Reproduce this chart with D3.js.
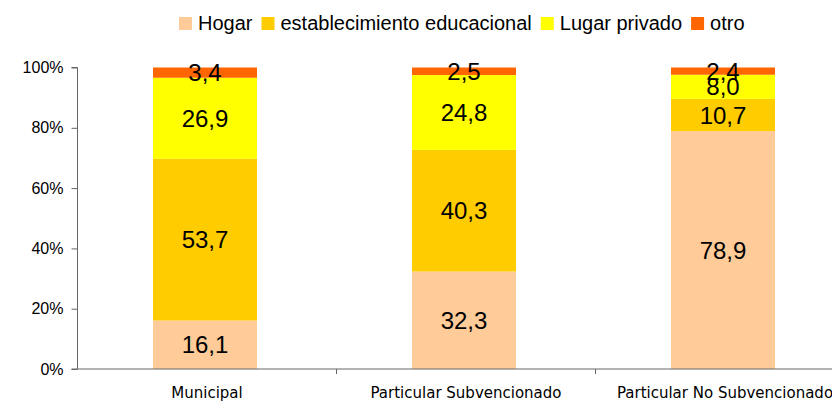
<!DOCTYPE html>
<html>
<head>
<meta charset="utf-8">
<script src="https://cdn.jsdelivr.net/npm/d3@7"></script>
<style>
  body { margin: 0; background: #fff; }
  svg { display: block; }
</style>
</head>
<body>
<div id="chart-area"></div>
<script>
var categories = ["Municipal", "Particular Subvencionado", "Particular No Subvencionado"]
var seriesNames = ["Hogar", "establecimiento educacional", "Lugar privado", "otro"]
var hogar = [16.1, 32.3, 78.9]
var establecimiento = [53.7, 40.3, 10.7]
var lugarPrivado = [26.9, 24.8, 8.0]
var otro = [3.4, 2.5, 2.4]
var colors = ["#FFCC99", "#FFCC00", "#FFFF00", "#FF6600"]
var yTicks = [0, 0.2, 0.4, 0.6, 0.8, 1]

var svgWidth = 832, svgHeight = 403
var margin = {top: 67.5, left: 77.5}
var chartWidth = 777   // plot runs past the right edge, like the original
var chartHeight = 369 - margin.top

var svg = d3.select("#chart-area").append("svg")
    .attr("width", svgWidth)
    .attr("height", svgHeight)

var rows = categories.map((c, i) => {
    return {cat: c, "Hogar": hogar[i], "establecimiento educacional": establecimiento[i],
            "Lugar privado": lugarPrivado[i], "otro": otro[i]}
})

var stack = d3.stack().keys(seriesNames).offset(d3.stackOffsetExpand)
var layers = stack(rows)

var xScale = d3.scaleBand()
    .domain(categories)
    .range([0, chartWidth])
    .paddingInner(0)

var barWidth = 104

var yScale = d3.scaleLinear()
    .domain([0, 1])
    .range([chartHeight, 0])

var z = d3.scaleOrdinal().domain(seriesNames).range(colors)

var chartGroup = svg.append("g")
    .attr("transform", `translate(${margin.left},${margin.top})`)

// bars
var layerG = chartGroup.selectAll(".layer")
    .data(layers)
    .enter().append("g")
    .attr("class", "layer")
    .attr("fill", d => z(d.key))

layerG.selectAll("rect")
    .data(d => d)
    .enter().append("rect")
    .attr("x", d => xScale(d.data.cat) + xScale.bandwidth() / 2 - barWidth / 2 - 2)
    .attr("width", barWidth)
    .attr("y", d => yScale(d[1]))
    .attr("height", d => yScale(d[0]) - yScale(d[1]))

// value labels
var fmt = v => v.toFixed(1).replace(".", ",")
layers.forEach(layer => {
    chartGroup.selectAll(".lbl-" + layer.index)
        .data(layer)
        .enter().append("text")
        .attr("class", "lbl-" + layer.index)
        .attr("x", d => xScale(d.data.cat) + xScale.bandwidth() / 2 - 2)
        .attr("y", d => yScale((d[0] + d[1]) / 2))
        .attr("dy", "0.36em")
        .attr("text-anchor", "middle")
        .attr("font-family", "Liberation Sans, Arial, sans-serif")
        .attr("font-size", "24px")
        .attr("fill", "#000")
        .text(d => fmt(d.data[layer.key]))
})

// y axis
var leftAxis = d3.axisLeft(yScale)
    .tickValues(yTicks)
    .tickFormat(d3.format(".0%"))
    .tickSize(6)
    .tickPadding(8)

var yAxis = chartGroup.append("g").attr("id", "y-axis").call(leftAxis)
yAxis.select(".domain").attr("stroke", "#666").attr("d", `M-6,${chartHeight}H0V0H-6`)
yAxis.selectAll(".tick line").attr("stroke", "#666")
yAxis.selectAll("text")
    .attr("font-family", "Liberation Sans, Arial, sans-serif")
    .attr("font-size", "16px")
    .attr("fill", "#000")

// x axis
var xAxisG = chartGroup.append("g")
    .attr("id", "x-axis")
    .attr("transform", `translate(0, ${chartHeight})`)

xAxisG.append("line")
    .attr("x1", 0).attr("x2", chartWidth)
    .attr("stroke", "#666")

xAxisG.selectAll(".sep")
    .data(categories)
    .enter().append("line")
    .attr("class", "sep")
    .attr("x1", d => xScale(d) + xScale.bandwidth())
    .attr("x2", d => xScale(d) + xScale.bandwidth())
    .attr("y1", 0).attr("y2", 5)
    .attr("stroke", "#666")

xAxisG.selectAll(".cat")
    .data(categories)
    .enter().append("text")
    .attr("class", "cat")
    .attr("x", d => xScale(d) + xScale.bandwidth() / 2)
    .attr("y", 29)
    .attr("text-anchor", "middle")
    .attr("font-family", "DejaVu Sans, Verdana, sans-serif")
    .attr("font-size", "15px")
    .attr("fill", "#000")
    .text(d => d)

// legend
var legend = svg.append("g").attr("id", "legend")
var items = legend.selectAll(".item")
    .data(seriesNames)
    .enter().append("g")
    .attr("class", "item")

items.append("rect")
    .attr("width", 13).attr("height", 13)
    .attr("y", 17)
    .attr("fill", d => z(d))

items.append("text")
    .attr("x", 19)
    .attr("y", 30)
    .attr("font-family", "Liberation Sans, Arial, sans-serif")
    .attr("font-size", "20px")
    .attr("fill", "#000")
    .text(d => d)

var offsets = [], pos = 0
items.each(function() {
    offsets.push(pos)
    pos += 19 + d3.select(this).select("text").node().getComputedTextLength() + 9
})
var legendStart = 179
items.attr("transform", (d, i) => `translate(${legendStart + offsets[i]},0)`)
</script>
</body>
</html>
